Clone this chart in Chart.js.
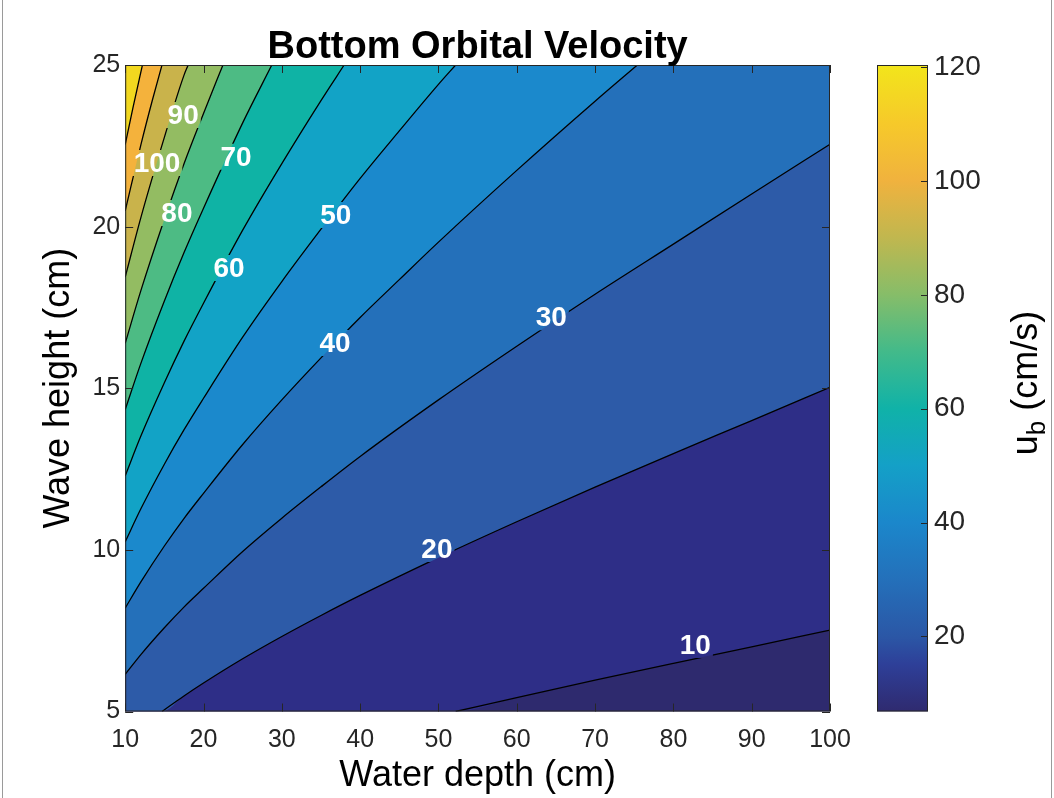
<!DOCTYPE html>
<html>
<head>
<meta charset="utf-8">
<title>Bottom Orbital Velocity</title>
<script src="https://cdn.jsdelivr.net/npm/chart.js@4.4.1/dist/chart.umd.min.js"></script>
<style>
html, body { margin: 0; padding: 0; background: #fff; }
#wrap { position: relative; width: 1054px; height: 798px; overflow: hidden; }
#wrap canvas { position: absolute; left: 0; top: 0; }
</style>
</head>
<body>
<div id="wrap">
  <canvas id="mainChart" width="1054" height="798"></canvas>
  <canvas id="barChart" width="1054" height="798"></canvas>
</div>
<script>
// Axis ticks
const depthTicks = [10, 20, 30, 40, 50, 60, 70, 80, 90, 100];
const heightTicks = [5, 10, 15, 20, 25];
const cbTicks = [20, 40, 60, 80, 100, 120];
const cbMin = 6.8;
const cbMax = 120.4;

// Contour levels (cm/s) and the lines: [depth, wave height]
const levels = [10, 20, 30, 40, 50, 60, 70, 80, 90, 100, 110];
const c10 = [[52.2, 5], [60, 5.43], [70, 5.97], [80, 6.49], [90, 7.0], [100, 7.52]];
const c20 = [[14.7, 5], [17.5, 5.48], [20, 5.88], [25, 6.63], [30, 7.32], [35, 7.97], [40, 8.59], [50, 9.76], [60, 10.87], [70, 11.94], [80, 12.98], [90, 14.0], [100, 15.03]];
const c30 = [[10, 6.15], [12, 6.76], [15, 7.59], [17.5, 8.23], [20, 8.81], [25, 9.95], [30, 10.98], [35, 11.95], [40, 12.89], [50, 14.64], [60, 16.3], [70, 17.91], [80, 19.46], [90, 21.01], [100, 22.55]];
const c40 = [[10, 8.2], [12, 9.01], [15, 10.12], [17.5, 10.97], [20, 11.75], [25, 13.26], [30, 14.64], [35, 15.94], [40, 17.19], [45, 18.36], [50, 19.52], [60, 21.74], [70, 23.88], [75.4, 25]];
const c50 = [[10, 10.25], [12, 11.27], [15, 12.65], [17.5, 13.71], [20, 14.69], [25, 16.58], [30, 18.3], [35, 19.92], [40, 21.49], [45, 22.96], [50, 24.4], [52.2, 25]];
const c60 = [[10, 12.29], [12, 13.52], [15, 15.17], [17.5, 16.45], [20, 17.63], [25, 19.89], [30, 21.95], [35, 23.9], [37.96, 25]];
const c70 = [[10, 14.34], [12, 15.77], [15, 17.7], [17.5, 19.19], [20, 20.57], [25, 23.21], [28.72, 25]];
const c80 = [[10, 16.39], [12, 18.02], [15, 20.23], [17.5, 21.94], [20, 23.5], [22.48, 25]];
const c90 = [[10, 18.44], [12, 20.28], [15, 22.76], [17.5, 24.68], [18.04, 25]];
const c100 = [[10, 20.49], [12, 22.53], [13.5, 23.94], [14.7, 25]];
const c110 = [[10, 22.54], [11, 23.69], [12.2, 25]];
const contours = [c10, c20, c30, c40, c50, c60, c70, c80, c90, c100, c110];

// Band colours: first is below 10, then one per level upward
const bandColors = ['#2e2a6e', '#2e2e87', '#2d5ba8', '#2470ba', '#1b89cc', '#12a3c6',
                    '#0fb3a5', '#4dbb84', '#93bc62', '#c9b34b', '#f4b23c', '#f2d81f'];

// Inline contour labels
const labelText = ['90', '100', '70', '80', '50', '60', '40', '30', '20', '10'];
const labelX = [17.4, 14.06, 24.15, 16.6, 36.9, 23.26, 36.8, 64.4, 49.8, 82.8];
const labelY = [23.45, 21.97, 22.16, 20.42, 20.36, 18.72, 16.4, 17.2, 10.03, 7.06];

// Colour bar gradient stops
const cbStopValues = [6.8, 15, 20, 30, 40, 50, 60, 70, 80, 90, 100, 110, 120.4];
const cbStopColors = ['#2f2a6f', '#2e3f98', '#2b57a6', '#2470ba', '#1b87cb', '#14a0c7', '#10b2a8',
                      '#42ba8a', '#86bd69', '#c0b74f', '#f0b23e', '#f6c92a', '#f2e51b'];

const FONT = '"Liberation Sans", Arial, Helvetica, sans-serif';
const LABEL_FONT = 'bold 28px ' + FONT;
const toXY = pts => pts.map(p => ({ x: p[0], y: p[1] }));

// Filled bands: area above each contour, drawn from low to high
const fillSets = levels.map((lev, i) => {
    let pts = contours[i];
    if (pts[0][0] > 10) pts = [[10, 5]].concat(pts);
    return {
        data: toXY(pts),
        fill: 'end',
        backgroundColor: bandColors[i + 1],
        borderWidth: 0,
        pointRadius: 0,
        cubicInterpolationMode: 'monotone',
        order: 1000 - lev
    };
});

// Black contour lines on top
const lineSets = levels.map((lev, i) => ({
    data: toXY(contours[i]),
    fill: false,
    borderColor: '#000',
    borderWidth: 1.3,
    pointRadius: 0,
    cubicInterpolationMode: 'monotone',
    order: 10,
    isContour: true
}));

const bandBackground = {
    id: 'bandBackground',
    beforeDatasetsDraw(chart) {
        const { ctx, chartArea: a } = chart;
        ctx.save();
        ctx.fillStyle = bandColors[0];
        ctx.fillRect(a.left, a.top, a.right - a.left, a.bottom - a.top);
        ctx.restore();
    }
};

// Break the contour lines where the labels sit
const labelGaps = {
    id: 'labelGaps',
    beforeDatasetDraw(chart, args) {
        const ds = chart.data.datasets[args.index];
        if (!ds.isContour) return;
        const { ctx, chartArea: a, scales } = chart;
        ctx.save();
        ctx.font = LABEL_FONT;
        ctx.beginPath();
        ctx.rect(a.left - 2, a.top - 2, a.right - a.left + 4, a.bottom - a.top + 4);
        labelText.forEach((t, i) => {
            const w = ctx.measureText(t).width + 4;
            const x = scales.x.getPixelForValue(labelX[i]);
            const y = scales.y.getPixelForValue(labelY[i]);
            ctx.rect(x - w / 2, y - 13, w, 26);
        });
        ctx.clip('evenodd');
    },
    afterDatasetDraw(chart, args) {
        const ds = chart.data.datasets[args.index];
        if (ds.isContour) chart.ctx.restore();
    }
};

const axesBox = {
    id: 'axesBox',
    afterDatasetsDraw(chart) {
        const { ctx, chartArea: a, scales } = chart;
        ctx.save();
        // contour labels
        ctx.fillStyle = '#fff';
        ctx.font = LABEL_FONT;
        ctx.textAlign = 'center';
        ctx.textBaseline = 'middle';
        labelText.forEach((t, i) => {
            ctx.fillText(t, scales.x.getPixelForValue(labelX[i]), scales.y.getPixelForValue(labelY[i]) + 1);
        });
        // box and inward ticks
        ctx.strokeStyle = '#262626';
        ctx.lineWidth = 1;
        ctx.strokeRect(a.left + 0.5, a.top + 0.5, a.right - a.left - 1, a.bottom - a.top - 1);
        ctx.beginPath();
        depthTicks.forEach(v => {
            const x = Math.round(scales.x.getPixelForValue(v)) + 0.5;
            ctx.moveTo(x, a.bottom); ctx.lineTo(x, a.bottom - 8);
            ctx.moveTo(x, a.top); ctx.lineTo(x, a.top + 8);
        });
        heightTicks.forEach(v => {
            const y = Math.round(scales.y.getPixelForValue(v)) + 0.5;
            ctx.moveTo(a.left, y); ctx.lineTo(a.left + 8, y);
            ctx.moveTo(a.right, y); ctx.lineTo(a.right - 8, y);
        });
        ctx.stroke();
        // title
        ctx.fillStyle = '#000';
        ctx.font = 'bold 38px ' + FONT;
        ctx.textBaseline = 'alphabetic';
        ctx.fillText('Bottom Orbital Velocity', (a.left + a.right) / 2, 58);
        // figure frame
        ctx.strokeStyle = '#9a9a9a';
        ctx.beginPath();
        ctx.moveTo(2.5, 0); ctx.lineTo(2.5, 798);
        ctx.moveTo(1051.5, 0); ctx.lineTo(1051.5, 798);
        ctx.stroke();
        ctx.restore();
    }
};

new Chart(document.getElementById('mainChart'), {
    type: 'line',
    data: { datasets: fillSets.concat(lineSets) },
    options: {
        responsive: false,
        animation: false,
        layout: { padding: { top: 65, right: 224, left: 0, bottom: 0 } },
        plugins: { legend: { display: false }, tooltip: { enabled: false }, filler: { propagate: false } },
        scales: {
            x: {
                type: 'linear', min: 10, max: 100, position: 'bottom',
                afterBuildTicks: s => { s.ticks = depthTicks.map(v => ({ value: v })); },
                afterFit: s => { s.height = 86.5; },
                grid: { display: false, drawTicks: false },
                border: { display: false },
                ticks: { color: '#262626', font: { family: FONT, size: 25 }, padding: 14 },
                title: { display: true, text: 'Water depth (cm)', color: '#000',
                         font: { family: FONT, size: 36 }, padding: { top: 0, bottom: 0 } }
            },
            y: {
                type: 'linear', min: 5, max: 25,
                afterBuildTicks: s => { s.ticks = heightTicks.map(v => ({ value: v })); },
                afterFit: s => { s.width = 125.2; },
                grid: { display: false, drawTicks: false },
                border: { display: false },
                ticks: { color: '#262626', font: { family: FONT, size: 25 }, padding: 5 },
                title: { display: true, text: 'Wave height (cm)', color: '#000',
                         font: { family: FONT, size: 36 }, padding: { top: 37, bottom: 0 } }
            }
        }
    },
    plugins: [bandBackground, labelGaps, axesBox]
});

// Colour bar
const barFrame = {
    id: 'barFrame',
    afterDatasetsDraw(chart) {
        const { ctx, chartArea: a, scales } = chart;
        ctx.save();
        ctx.strokeStyle = '#262626';
        ctx.lineWidth = 1;
        ctx.strokeRect(a.left + 0.5, a.top + 0.5, a.right - a.left - 1, a.bottom - a.top - 1);
        ctx.beginPath();
        cbTicks.forEach(v => {
            const y = Math.round(scales.y.getPixelForValue(v)) + 0.5;
            ctx.moveTo(a.right, y); ctx.lineTo(a.right - 7, y);
        });
        ctx.stroke();
        // rotated label u_b (cm/s)
        ctx.translate(1027, 383);
        ctx.rotate(-Math.PI / 2);
        ctx.fillStyle = '#000';
        ctx.textBaseline = 'middle';
        ctx.textAlign = 'left';
        const big = '36px ' + FONT, small = '26px ' + FONT;
        ctx.font = big;
        const wU = ctx.measureText('u').width;
        const wRest = ctx.measureText(' (cm/s)').width;
        ctx.font = small;
        const wB = ctx.measureText('b').width;
        const x0 = -(wU + wB + wRest) / 2;
        ctx.font = big;
        ctx.fillText('u', x0, 0);
        ctx.font = small;
        ctx.fillText('b', x0 + wU, 11);
        ctx.font = big;
        ctx.fillText(' (cm/s)', x0 + wU + wB, 0);
        ctx.restore();
    }
};

new Chart(document.getElementById('barChart'), {
    type: 'bar',
    data: {
        labels: ['ub'],
        datasets: [{
            data: [[cbMin, cbMax]],
            barPercentage: 1,
            categoryPercentage: 1,
            borderWidth: 0,
            backgroundColor: (c) => {
                const { chart } = c;
                const y = chart.scales.y;
                if (!chart.chartArea || !y) return cbStopColors[0];
                const g = chart.ctx.createLinearGradient(0, y.getPixelForValue(cbMin), 0, y.getPixelForValue(cbMax));
                cbStopValues.forEach((v, i) => g.addColorStop((v - cbMin) / (cbMax - cbMin), cbStopColors[i]));
                return g;
            }
        }]
    },
    options: {
        responsive: false,
        animation: false,
        layout: { padding: { top: 65, right: 0, left: 877, bottom: 86.5 } },
        plugins: { legend: { display: false }, tooltip: { enabled: false } },
        scales: {
            x: { display: false },
            y: {
                position: 'right', min: cbMin, max: cbMax,
                afterBuildTicks: s => { s.ticks = cbTicks.map(v => ({ value: v })); },
                afterFit: s => { s.width = 126; },
                grid: { display: false, drawTicks: false },
                border: { display: false },
                ticks: { color: '#262626', font: { family: FONT, size: 28 }, padding: 6 }
            }
        }
    },
    plugins: [barFrame]
});
</script>
</body>
</html>
